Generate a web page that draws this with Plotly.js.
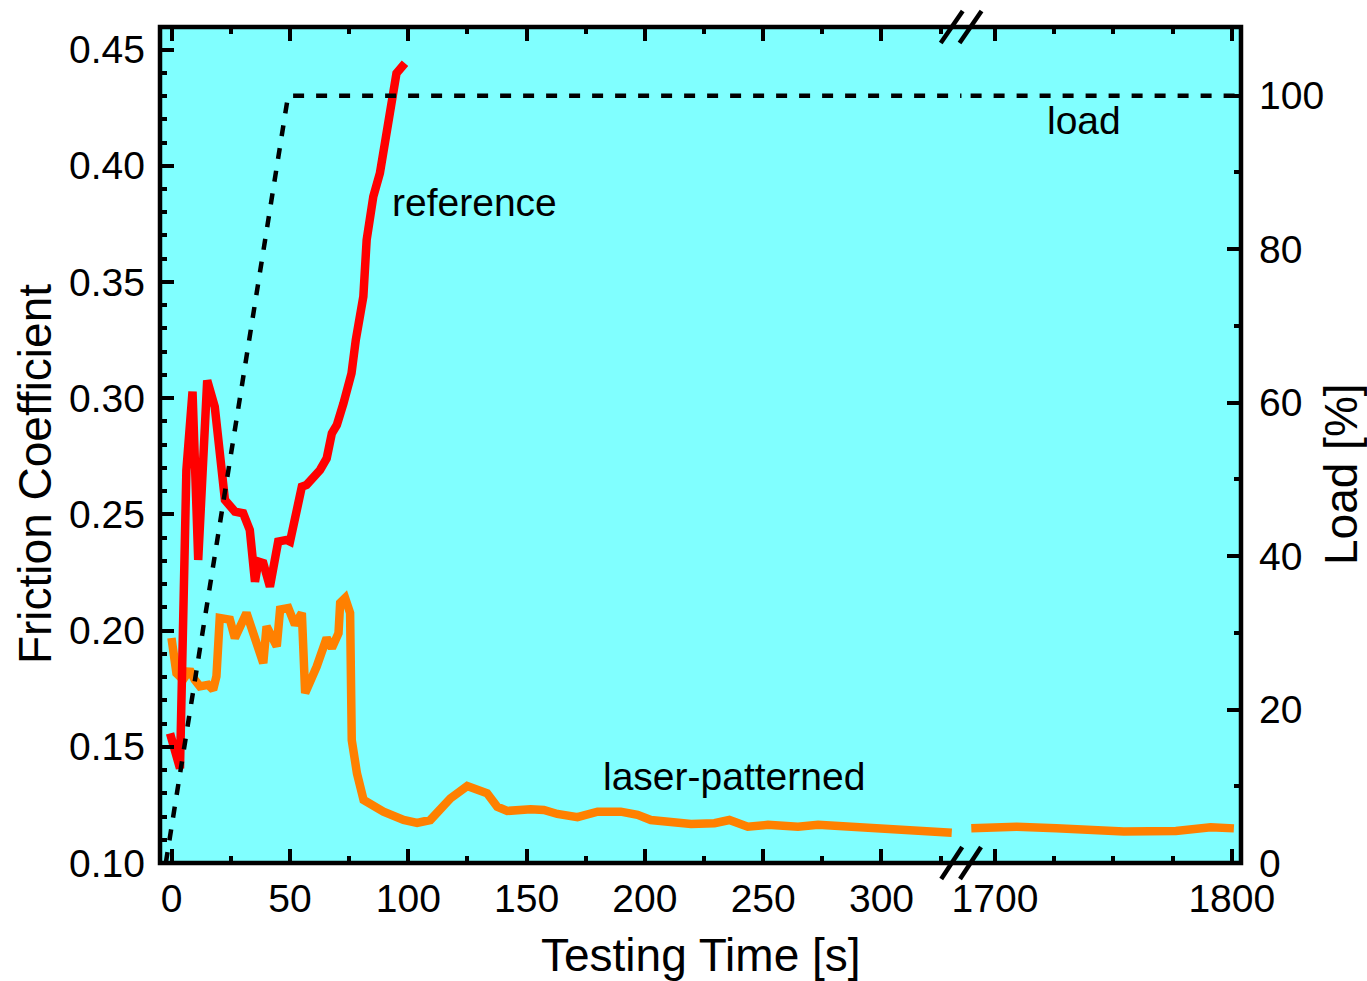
<!DOCTYPE html>
<html>
<head>
<meta charset="utf-8">
<script src="https://cdn.plot.ly/plotly-3.0.1.min.js"></script>
<style>html,body{margin:0;padding:0;background:#fff;}#chart{width:1367px;height:981px;}</style>
</head>
<body>
<div id="chart"></div>
<script>
// ---- data ----
const refTime = [-0.7, 3.5, 6.2, 8.8, 11.2, 15.0, 18.2, 22.5, 26.7, 30.2, 33.0, 35.2, 36.6, 38.7, 41.5, 45.0, 48.6, 50.0, 55.0, 57.0, 62.7, 65.5, 67.7, 69.8, 72.6, 76.0, 77.8, 81.0, 82.4, 85.2, 88.0, 90.2, 93.0, 95.0, 98.6];
const refFriction = [0.1558, 0.1407, 0.269, 0.3028, 0.2304, 0.3076, 0.2963, 0.2562, 0.2512, 0.2505, 0.2433, 0.2210, 0.2297, 0.2290, 0.2189, 0.2383, 0.2390, 0.2383, 0.2619, 0.2627, 0.2691, 0.2741, 0.2849, 0.2885, 0.2978, 0.3107, 0.3250, 0.3437, 0.3681, 0.3867, 0.3968, 0.4111, 0.4269, 0.4398, 0.4441];

const laserTimeA = [-0.1, 2.0, 4.8, 7.6, 9.7, 11.9, 15.4, 17.5, 18.9, 20.3, 24.6, 26.7, 31.6, 35.9, 38.7, 40.1, 44.4, 45.8, 49.3, 52.1, 55.0, 56.4, 61.3, 65.5, 67.7, 70.5, 71.2, 73.3, 75.4, 76.1, 78.3, 81.1, 85.2, 89.5, 98.0, 103.7, 109.3, 112.2, 117.8, 124.9, 133.3, 137.6, 141.8, 151.7, 157.3, 163.0, 171.5, 180.0, 189.8, 196.9, 202.5, 219.5, 229.4, 235.7, 243.5, 252.0, 264.7, 273.2, 281.7, 292.9, 307.1, 318.3, 329.7];
const laserFrictionA = [0.1968, 0.1817, 0.1789, 0.1832, 0.1789, 0.1760, 0.1767, 0.1746, 0.1803, 0.2054, 0.2047, 0.1968, 0.2076, 0.1947, 0.1860, 0.2018, 0.1932, 0.2090, 0.2097, 0.2025, 0.2076, 0.1731, 0.1846, 0.1968, 0.1925, 0.1989, 0.2119, 0.2140, 0.2076, 0.1529, 0.1386, 0.1271, 0.1242, 0.1221, 0.1185, 0.1173, 0.1185, 0.1221, 0.1278, 0.1331, 0.1300, 0.1242, 0.1224, 0.1231, 0.1228, 0.1211, 0.1197, 0.1221, 0.1221, 0.1207, 0.1185, 0.1168, 0.1171, 0.1185, 0.1156, 0.1164, 0.1156, 0.1164, 0.1159, 0.1145, 0.1142, 0.1139, 0.1130];

const laserTimeB = [1690.0, 1709.2, 1725.9, 1740.1, 1754.4, 1776.4, 1791.1, 1800.9];
const laserFrictionB = [0.1149, 0.1156, 0.1149, 0.1139, 0.1135, 0.1138, 0.1154, 0.1149];

const loadTimeA = [-2.5, 49.2, 340];
const loadA = [0, 100, 100];
const loadTimeB = [1680, 1810];
const loadB = [100, 100];

const seriesLabels = ["reference", "laser-patterned", "load"];
const axisTitles = {x: "Testing Time [s]", yLeft: "Friction Coefficient", yRight: "Load [%]"};

// ---- styling ----
const FONT = "'Liberation Sans', Arial, sans-serif";
const tickFont = {family: FONT, size: 39, color: "#000"};
const titleFont = {family: FONT, size: 46, color: "#000"};
const labelFont = {family: FONT, size: 39, color: "#000"};

const RED = "#ff0000", ORANGE = "#ff8000", BG = "#80ffff";
const LW = 8.5;

const traces = [
  {x: loadTimeA, y: loadA, xaxis: "x", yaxis: "y2", mode: "lines", name: seriesLabels[2],
   line: {color: "#000", width: 4.5, dash: "11px,12px"}, showlegend: false, hoverinfo: "skip"},
  {x: loadTimeB, y: loadB, xaxis: "x2", yaxis: "y2", mode: "lines", name: seriesLabels[2],
   line: {color: "#000", width: 4.5, dash: "11px,12px"}, showlegend: false, hoverinfo: "skip"},
  {x: laserTimeA, y: laserFrictionA, xaxis: "x", yaxis: "y", mode: "lines", name: seriesLabels[1],
   line: {color: ORANGE, width: LW}, showlegend: false},
  {x: laserTimeB, y: laserFrictionB, xaxis: "x2", yaxis: "y", mode: "lines", name: seriesLabels[1],
   line: {color: ORANGE, width: LW}, showlegend: false},
  {x: refTime, y: refFriction, xaxis: "x", yaxis: "y", mode: "lines", name: seriesLabels[0],
   line: {color: RED, width: LW}, showlegend: false}
];

const L = 160, R = 126, T = 27, B = 118;
const W = 1367, H = 981;
const split = 0.7414;

const baseX = {
  showgrid: false, zeroline: false, showline: false,
  ticks: "inside", ticklen: 14, tickwidth: 4, tickcolor: "#000",
  mirror: "ticks", tickfont: tickFont, fixedrange: true, ticklabelstandoff: 9,
  minor: {ticks: "inside", ticklen: 7, tickwidth: 4, tickcolor: "#000", dtick: 25}
};

const layout = {
  width: W, height: H,
  margin: {l: L, r: R, t: T, b: B, pad: 0},
  paper_bgcolor: "#ffffff",
  plot_bgcolor: BG,
  showlegend: false,
  xaxis: Object.assign({}, baseX, {domain: [0, split], range: [-4.95, 333.8], tick0: 0, dtick: 50, anchor: "y"}),
  xaxis2: Object.assign({}, baseX, {domain: [split, 1], range: [1685.85, 1803.9], tick0: 1700, dtick: 100, anchor: "y",
    minor: {ticks: "inside", ticklen: 7, tickwidth: 4, tickcolor: "#000", dtick: 25, tick0: 1700}}),
  yaxis: {
    range: [0.1, 0.4597], anchor: "x", side: "left",
    showgrid: false, zeroline: false, showline: false,
    tick0: 0.1, dtick: 0.05, tickformat: ".2f",
    ticks: "inside", ticklen: 14, tickwidth: 4, tickcolor: "#000",
    tickfont: tickFont, fixedrange: true, ticklabelstandoff: 14,
    minor: {ticks: "inside", ticklen: 7, tickwidth: 4, tickcolor: "#000", dtick: 0.01}
  },
  yaxis2: {
    range: [0, 108.95], anchor: "x2", side: "right", overlaying: "y",
    showgrid: false, zeroline: false, showline: false,
    tick0: 0, dtick: 20,
    ticks: "inside", ticklen: 14, tickwidth: 4, tickcolor: "#000",
    tickfont: tickFont, fixedrange: true, ticklabelstandoff: 17,
    minor: {ticks: "inside", ticklen: 7, tickwidth: 4, tickcolor: "#000", dtick: 10}
  },
  shapes: [
    // continuous background across the axis break
    {type: "rect", xref: "paper", yref: "paper", x0: 0, x1: 1, y0: 0, y1: 1,
     line: {width: 0}, fillcolor: BG, layer: "below"},
    {type: "rect", xref: "paper", yref: "paper", x0: 0, x1: 1, y0: 0, y1: 1,
     line: {color: "#000", width: 4.5}, fillcolor: "rgba(0,0,0,0)", layer: "above"},
    // axis-break marks (bottom and top)
    {type: "line", xref: "paper", yref: "paper", xsizemode: "pixel", ysizemode: "pixel",
     xanchor: 0.7324, yanchor: 0, x0: -10.5, x1: 10.5, y0: -16, y1: 16, line: {color: "#000", width: 4.5}, layer: "above"},
    {type: "line", xref: "paper", yref: "paper", xsizemode: "pixel", ysizemode: "pixel",
     xanchor: 0.7498, yanchor: 0, x0: -10.5, x1: 10.5, y0: -16, y1: 16, line: {color: "#000", width: 4.5}, layer: "above"},
    {type: "line", xref: "paper", yref: "paper", xsizemode: "pixel", ysizemode: "pixel",
     xanchor: 0.7324, yanchor: 1, x0: -11, x1: 11, y0: -16, y1: 16, line: {color: "#000", width: 4.5}, layer: "above"},
    {type: "line", xref: "paper", yref: "paper", xsizemode: "pixel", ysizemode: "pixel",
     xanchor: 0.7498, yanchor: 1, x0: -11, x1: 11, y0: -16, y1: 16, line: {color: "#000", width: 4.5}, layer: "above"}
  ],
  annotations: [
    {text: seriesLabels[0], xref: "x", yref: "y", x: 92.3, y: 0.384, xanchor: "left", yanchor: "middle",
     showarrow: false, font: labelFont},
    {text: seriesLabels[1], xref: "x", yref: "y", x: 181.4, y: 0.1374, xanchor: "left", yanchor: "middle",
     showarrow: false, font: labelFont},
    {text: seriesLabels[2], xref: "x2", yref: "y2", x: 1721.1, y: 96.8, xanchor: "left", yanchor: "middle",
     showarrow: false, font: labelFont},
    {text: axisTitles.x, xref: "paper", yref: "paper", x: 0.5005, y: -0.110, xanchor: "center", yanchor: "middle",
     showarrow: false, font: titleFont},
    {text: axisTitles.yLeft, xref: "paper", yref: "paper", x: -0.1156, y: 0.4653, xanchor: "center", yanchor: "middle",
     textangle: -90, showarrow: false, font: titleFont},
    {text: axisTitles.yRight, xref: "paper", yref: "paper", x: 1.0925, y: 0.4653, xanchor: "center", yanchor: "middle",
     textangle: -90, showarrow: false, font: titleFont}
  ]
};

Plotly.newPlot("chart", traces, layout, {staticPlot: true, displayModeBar: false});
</script>
</body>
</html>
